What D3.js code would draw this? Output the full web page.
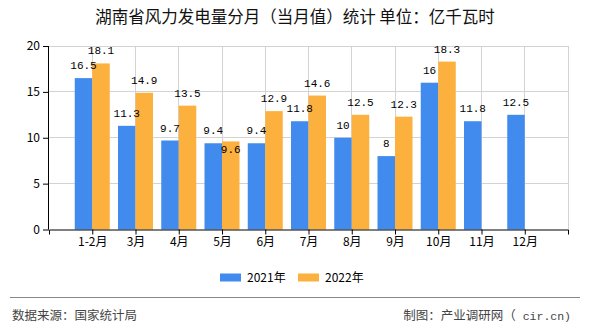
<!DOCTYPE html>
<html><head><meta charset="utf-8">
<script src="https://cdn.jsdelivr.net/npm/d3@7"></script>
<style>body{margin:0;background:#fff}svg{display:block}</style>
</head><body>
<svg id="c" width="590" height="330"></svg>
<script>
const categories = ["1-2月","3月","4月","5月","6月","7月","8月","9月","10月","11月","12月"];
const values2021 = [16.5,11.3,9.7,9.4,9.4,11.8,10,8,16,11.8,12.5];
const values2022 = [18.1,14.9,13.5,9.6,12.9,14.6,12.5,12.3,18.3,null,null];
const seriesNames = ["2021年","2022年"];
const yTicks = [0,5,10,15,20];
const title = "湖南省风力发电量分月（当月值）统计 单位：亿千瓦时";
const sourceText = "数据来源：国家统计局";
const creditText = "制图：产业调研网（";
const creditTail = " cir.cn)";

const colors = ["#418BEE","#FCB13F"];
const svg = d3.select("#c");
const L = 49, R = 568, T = 46, B = 229.5;
const x = d3.scalePoint().domain(categories).range([L, R]).padding(1);
const y = d3.scaleLinear().domain([0, 20]).range([B, T]);
const bw = 17.5;
const sans = "'Microsoft YaHei','Noto Sans CJK SC',sans-serif";
const mono = "'Liberation Mono','DejaVu Sans Mono',monospace";

svg.append("text").attr("x", 295).attr("y", 23).attr("text-anchor","middle")
  .attr("font-family", sans).attr("font-size", 16.5).attr("fill","#111").text(title);

// grid
const g = svg.append("g");
g.selectAll(".hg").data(yTicks.filter(d=>d>0)).join("line")
  .attr("x1", L).attr("x2", R).attr("y1", d=>y(d)).attr("y2", d=>y(d))
  .attr("stroke","#d3d3d3").attr("stroke-width",1).attr("shape-rendering","crispEdges");
g.selectAll(".vg").data(categories).join("line")
  .attr("x1", d=>x(d)).attr("x2", d=>x(d)).attr("y1", T).attr("y2", B)
  .attr("stroke","#d3d3d3").attr("shape-rendering","crispEdges");
g.append("line").attr("x1",R).attr("x2",R).attr("y1",T).attr("y2",B)
  .attr("stroke","#d3d3d3").attr("shape-rendering","crispEdges");

// bars
const series = [values2021, values2022];
series.forEach((vals, si) => {
  svg.append("g").selectAll("rect").data(categories.map((c,i)=>({c, v: vals[i]})).filter(d=>d.v!=null))
    .join("rect")
    .attr("x", d => si===0 ? x(d.c)-bw : x(d.c))
    .attr("width", bw)
    .attr("y", d => y(d.v))
    .attr("height", d => y(0)-y(d.v))
    .attr("fill", colors[si]);
});

// axes
const yAxis = d3.axisLeft(y).tickValues(yTicks).tickSize(6).tickPadding(3);
const ya = svg.append("g").attr("transform",`translate(${L},0)`).call(yAxis);
ya.select(".domain").attr("d", `M-0.5,${T}V${B}`).attr("stroke","#000");
ya.selectAll("text").attr("font-family", sans).attr("font-size",12).attr("fill","#000");

const xAxis = d3.axisBottom(x).tickSize(5).tickPadding(3).tickSizeOuter(5);
const xa = svg.append("g").attr("transform",`translate(0,${B})`).call(xAxis);
xa.select(".domain").attr("stroke","#000");
xa.selectAll("text").attr("font-family", sans).attr("font-size",12).attr("fill","#000");

// labels
const lab = svg.append("g").attr("font-family", mono)
  .attr("font-size",11).attr("fill","#000").attr("text-anchor","middle");
categories.forEach((c,i) => {
  const a = values2021[i], b = values2022[i];
  if (a!=null) lab.append("text").attr("x", x(c)-bw/2).attr("y", y(a)-9).text(a);
  if (b!=null) {
    const close = a!=null && Math.abs(y(a)-y(b)) < 10;
    lab.append("text").attr("x", x(c)+bw/2).attr("y", close ? y(b)+12 : y(b)-9).text(b);
  }
});

// legend
const lg = svg.append("g");
[[220,247],[298,325]].forEach((p,i)=>{
  lg.append("rect").attr("x",p[0]).attr("y",273.5).attr("width",21).attr("height",8).attr("fill",colors[i]);
  lg.append("text").attr("x",p[1]).attr("y",281.5).attr("font-family",sans).attr("font-size",12).attr("fill","#000").text(seriesNames[i]);
});

// footer
svg.append("line").attr("x1",10).attr("x2",580).attr("y1",297.5).attr("y2",297.5).attr("stroke","#888").attr("stroke-width",1.2);
svg.append("text").attr("x",12).attr("y",320).attr("font-family",sans).attr("font-size",12.5).attr("fill","#444").text(sourceText);
const cr = svg.append("text").attr("x",571).attr("y",320).attr("text-anchor","end").attr("font-family",sans).attr("font-size",12.5).attr("fill","#444");
cr.append("tspan").text(creditText);
cr.append("tspan").attr("font-family",mono).attr("font-size",11.5).text(creditTail);
</script>
</body></html>
